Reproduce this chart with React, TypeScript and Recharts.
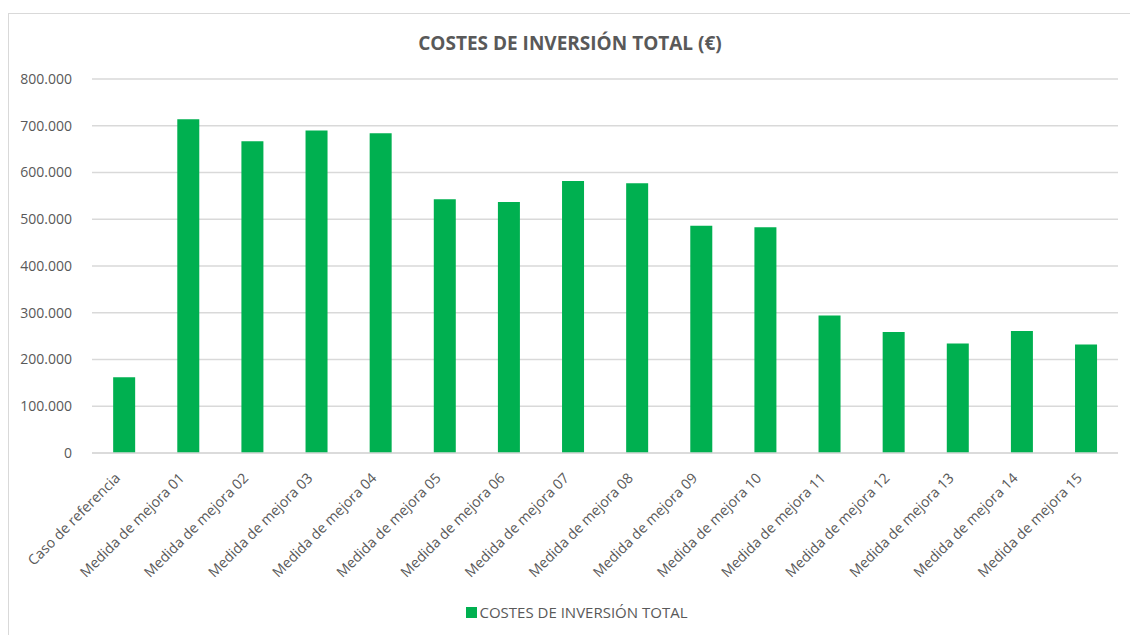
import React from 'react';
import { BarChart, Bar, XAxis, YAxis, CartesianGrid, Legend } from 'recharts';

const categories = [
    'Caso de referencia',
    'Medida de mejora 01', 'Medida de mejora 02', 'Medida de mejora 03', 'Medida de mejora 04',
    'Medida de mejora 05', 'Medida de mejora 06', 'Medida de mejora 07', 'Medida de mejora 08',
    'Medida de mejora 09', 'Medida de mejora 10', 'Medida de mejora 11', 'Medida de mejora 12',
    'Medida de mejora 13', 'Medida de mejora 14', 'Medida de mejora 15',
];
const costes = [
    162000, 714000, 667000, 690000, 684000, 543000, 537000, 582000,
    577000, 486000, 483000, 294000, 259000, 234000, 261000, 232000,
];
const yTicks = [0, 100000, 200000, 300000, 400000, 500000, 600000, 700000, 800000];

const SERIES = 'COSTES DE INVERSIÓN TOTAL';
const GREEN = '#00B050';
const TEXT = '#595959';
const FONT = '"Open Sans", sans-serif';

const data = categories.map((name, i) => ({ name, [SERIES]: costes[i] }));

const fmt = (v: number) => String(v).replace(/\B(?=(\d{3})+(?!\d))/g, '.');

const XTick = ({ x, y, payload }: any) => (
    <text
        x={x - 3}
        y={y + 18}
        transform={`rotate(-45, ${x - 3}, ${y + 18})`}
        textAnchor="end"
        fill={TEXT}
        fontSize={14.2}
        fontFamily={FONT}
    >
        {payload.value}
    </text>
);

const LegendContent = () => (
    <div style={{ display: 'flex', justifyContent: 'center', alignItems: 'center', fontFamily: FONT, fontSize: 15, color: TEXT, paddingLeft: 26, paddingTop: 6 }}>
        <span style={{ width: 11, height: 11, background: GREEN, display: 'inline-block', marginRight: 3 }} />
        <span>{SERIES}</span>
    </div>
);

export default function App() {
    return (
        <div style={{ position: 'absolute', left: 8, top: 13, width: 1125, height: 640, border: '1px solid #d9d9d9', background: '#fff', boxSizing: 'border-box' }}>
            <div style={{ position: 'absolute', top: 16, left: 0, width: 1122, textAlign: 'center', fontFamily: FONT, fontWeight: 700, fontSize: 19, color: TEXT }}>
                COSTES DE INVERSIÓN TOTAL (€)
            </div>
            <BarChart width={1122} height={622} data={data} margin={{ top: 65, right: 13, left: 0, bottom: 0 }} barCategoryGap="33%">
                <CartesianGrid vertical={false} stroke="#d9d9d9" strokeWidth={1.3} />
                <XAxis
                    dataKey="name"
                    interval={0}
                    tickLine={false}
                    axisLine={{ stroke: '#d9d9d9', strokeWidth: 1.3 }}
                    tick={<XTick />}
                    height={143}
                />
                <YAxis
                    width={83}
                    domain={[0, 800000]}
                    ticks={yTicks}
                    tickFormatter={fmt}
                    axisLine={false}
                    tickLine={false}
                    tick={{ fill: TEXT, fontSize: 14, fontFamily: FONT }}
                    tickMargin={14}
                />
                <Legend verticalAlign="bottom" content={<LegendContent />} height={40} />
                <Bar dataKey={SERIES} fill={GREEN} isAnimationActive={false} />
            </BarChart>
        </div>
    );
}
